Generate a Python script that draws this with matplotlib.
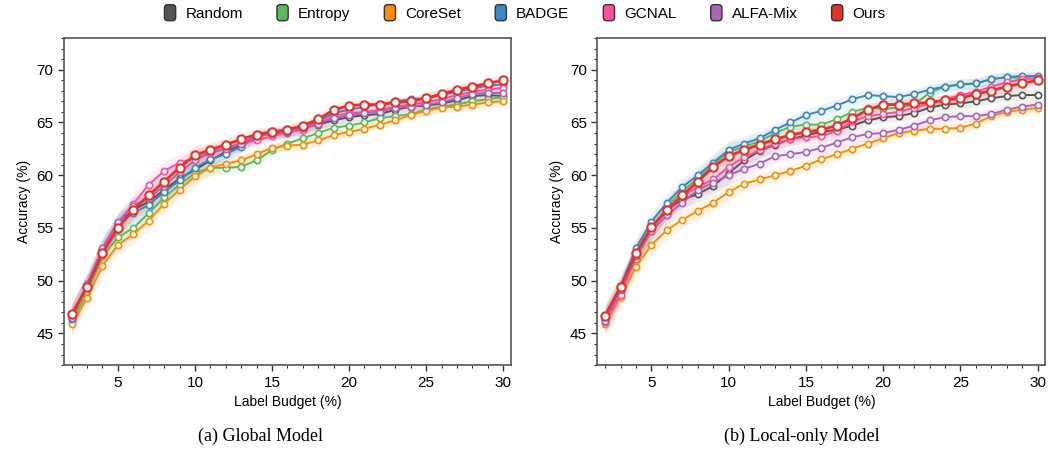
import numpy as np
import matplotlib
matplotlib.use("Agg")
import matplotlib.pyplot as plt
from matplotlib.patches import FancyBboxPatch, Patch
from matplotlib.legend_handler import HandlerPatch

plt.rcParams['font.family'] = ['Liberation Sans', 'DejaVu Sans']

budget = list(range(2, 31))
methods = ['Random', 'Entropy', 'CoreSet', 'BADGE', 'GCNAL', 'ALFA-Mix', 'Ours']
colors = ['#555555', '#5cb85c', '#ff8c00', '#3b86c4', '#ff4d9e', '#a966b5', '#e8312a']

# (a) Global Model
g_random = [46.5, 49.5, 52.9, 55.4, 56.7, 57.5, 58.6, 59.7, 60.5, 61.4, 62.2, 62.9, 63.7, 64.0, 64.1,
            64.5, 64.8, 65.2, 65.5, 65.7, 65.8, 66.2, 66.5, 66.6, 66.8, 67.1, 67.5, 67.6, 67.5]
g_entropy = [46.2, 48.9, 52.3, 54.1, 55.0, 56.4, 57.9, 59.1, 60.2, 60.7, 60.7, 60.8, 61.4, 62.4, 63.0,
             63.5, 64.0, 64.5, 64.7, 65.0, 65.4, 65.6, 65.8, 66.2, 66.5, 66.7, 67.0, 67.2, 67.4]
g_coreset = [45.9, 48.4, 51.4, 53.4, 54.4, 55.7, 57.3, 58.6, 59.9, 60.7, 61.1, 61.4, 62.0, 62.6, 62.8,
             62.9, 63.3, 63.8, 64.1, 64.4, 64.8, 65.2, 65.7, 66.1, 66.4, 66.5, 66.7, 66.9, 67.0]
g_badge = [46.4, 49.6, 53.0, 55.5, 56.4, 57.2, 58.4, 59.5, 60.7, 61.5, 62.0, 62.7, 63.6, 64.1, 64.0,
           64.4, 65.1, 65.9, 66.2, 66.5, 66.7, 67.0, 67.2, 67.3, 67.6, 67.9, 68.2, 68.5, 68.6]
g_gcnal = [46.6, 49.4, 52.9, 55.4, 57.3, 59.1, 60.4, 61.2, 61.6, 62.2, 62.6, 63.0, 63.3, 63.7, 64.1,
           64.3, 64.9, 65.6, 65.9, 66.0, 66.2, 66.5, 66.7, 66.9, 67.2, 67.6, 67.9, 68.1, 68.3]
g_alfamix = [46.5, 49.7, 53.1, 55.6, 57.1, 57.8, 59.0, 60.3, 61.4, 62.1, 62.5, 63.0, 63.7, 63.9, 64.1,
             64.5, 64.9, 65.4, 65.7, 65.9, 66.0, 66.4, 66.5, 66.7, 66.9, 67.3, 67.7, 67.8, 67.8]
g_ours = [46.8, 49.4, 52.6, 55.0, 56.7, 58.1, 59.4, 60.7, 61.9, 62.4, 62.9, 63.4, 63.85, 64.1, 64.3,
          64.7, 65.3, 66.2, 66.6, 66.7, 66.7, 66.9, 67.0, 67.3, 67.7, 68.1, 68.4, 68.7, 69.0]
g_std = [1.2, 1.1, 1.0, 0.9, 0.9, 0.9, 0.9, 0.8, 0.9, 0.7, 0.6, 0.6, 0.5, 0.5, 0.5,
         0.5, 0.5, 0.5, 0.5, 0.4, 0.4, 0.4, 0.4, 0.5, 0.5, 0.5, 0.5, 0.5, 0.5]

# (b) Local-only Model
l_random = [46.4, 49.3, 52.6, 54.9, 56.7, 57.7, 58.2, 59.0, 60.2, 61.4, 62.3, 62.9, 63.4, 63.8, 64.1,
            64.3, 64.7, 65.2, 65.5, 65.6, 65.9, 66.4, 66.7, 66.8, 67.0, 67.3, 67.5, 67.6, 67.6]
l_entropy = [46.3, 49.0, 52.1, 54.7, 57.0, 58.5, 59.7, 61.0, 62.2, 62.7, 63.2, 64.0, 64.6, 64.8, 64.8,
             65.3, 66.0, 66.4, 66.3, 66.4, 66.7, 67.8, 68.4, 68.6, 68.7, 69.1, 69.3, 69.2, 69.2]
l_coreset = [45.9, 48.5, 51.3, 53.4, 54.8, 55.8, 56.6, 57.4, 58.4, 59.2, 59.6, 60.0, 60.4, 60.9, 61.5,
             62.0, 62.5, 63.0, 63.5, 64.0, 64.2, 64.4, 64.4, 64.5, 64.9, 65.6, 66.0, 66.2, 66.4]
l_badge = [46.6, 49.5, 53.1, 55.6, 57.4, 58.9, 60.0, 61.2, 62.4, 63.0, 63.5, 64.3, 65.0, 65.7, 66.1,
           66.6, 67.2, 67.6, 67.5, 67.4, 67.7, 68.1, 68.4, 68.6, 68.7, 69.1, 69.3, 69.4, 69.4]
l_gcnal = [46.1, 48.6, 52.3, 55.0, 56.6, 58.0, 58.9, 59.6, 60.8, 61.7, 62.4, 63.0, 63.4, 63.6, 63.7,
           64.2, 65.1, 65.6, 65.8, 66.0, 66.4, 66.8, 67.2, 67.6, 67.9, 68.4, 68.8, 69.1, 69.2]
l_alfamix = [46.2, 49.1, 52.3, 54.7, 56.2, 57.4, 58.6, 59.3, 60.0, 60.6, 61.1, 61.8, 62.0, 62.2, 62.6,
             63.1, 63.6, 63.9, 64.0, 64.3, 64.7, 65.2, 65.5, 65.6, 65.6, 65.8, 66.2, 66.5, 66.7]
l_ours = [46.7, 49.4, 52.6, 55.1, 56.7, 58.1, 59.4, 60.8, 61.8, 62.4, 62.9, 63.4, 63.8, 64.1, 64.3,
          64.7, 65.4, 66.2, 66.7, 66.7, 66.8, 66.9, 67.1, 67.3, 67.7, 68.0, 68.4, 68.7, 69.0]
l_std = [1.1, 1.0, 1.0, 0.9, 0.9, 0.8, 0.8, 0.8, 0.9, 0.7, 0.7, 0.6, 0.6, 0.6, 0.6,
         0.6, 0.6, 0.5, 0.5, 0.5, 0.5, 0.5, 0.5, 0.5, 0.5, 0.5, 0.5, 0.5, 0.5]

panels = [
    ([g_random, g_entropy, g_coreset, g_badge, g_gcnal, g_alfamix, g_ours], g_std, '(a) Global Model', 0.249),
    ([l_random, l_entropy, l_coreset, l_badge, l_gcnal, l_alfamix, l_ours], l_std, '(b) Local-only Model', 0.765),
]

fig = plt.figure(figsize=(10.48, 4.53), dpi=100)
axes = [fig.add_axes([0.061, 0.194, 0.4265, 0.722]),
        fig.add_axes([0.570, 0.194, 0.4275, 0.722])]

for ax, (series, std, caption, cx) in zip(axes, panels):
    for name, col, vals in zip(methods, colors, series):
        v = np.array(vals)
        s = np.array(std)
        ours = name == 'Ours'
        ax.fill_between(budget, v - s, v + s, color=col, alpha=0.1, lw=0)
        ax.plot(budget, v, color=col, lw=2.0 if ours else 1.4, marker='o',
                ms=6 if ours else 4.5, mfc='white', mec=col, mew=1.5 if ours else 1.2,
                zorder=5 if ours else 3)
    ax.set_xlim(1.5, 30.5)
    ax.set_ylim(42, 73)
    ax.set_xticks([5, 10, 15, 20, 25, 30])
    ax.set_xticks(budget, minor=True)
    ax.set_yticks([45, 50, 55, 60, 65, 70])
    ax.set_yticks(range(42, 74), minor=True)
    ax.tick_params(which='major', length=4, width=1, labelsize=11, color='#333333')
    ax.tick_params(which='minor', length=2.5, width=0.8, color='#333333')
    for sp in ax.spines.values():
        sp.set_color('#555555')
        sp.set_linewidth(1.2)
    ax.set_xlabel('Label Budget (%)', fontsize=10)
    ax.set_ylabel('Accuracy (%)', fontsize=10)
    fig.text(cx, 0.037, caption, ha='center', va='center', fontsize=13, family='Liberation Serif')


class RoundBox(HandlerPatch):
    def create_artists(self, legend, orig_handle, xdescent, ydescent, width, height, fontsize, trans):
        w = height * 1.05
        p = FancyBboxPatch((-xdescent + (width - w) / 2, -ydescent - 0.25 * height), w, height * 1.5,
                           boxstyle='round,pad=0,rounding_size=%f' % (w * 0.3),
                           facecolor=orig_handle.get_facecolor(), edgecolor='#333333', lw=1.0,
                           transform=trans)
        return [p]


handles = [Patch(facecolor=c, label=m) for m, c in zip(methods, colors)]
fig.legend(handles=handles, loc='center', bbox_to_anchor=(0.5, 0.969), ncol=7, frameon=False,
           fontsize=11, handler_map={Patch: RoundBox()}, handlelength=1.0, handletextpad=0.5,
           columnspacing=2.1)

fig.savefig('out.png', dpi=100)
